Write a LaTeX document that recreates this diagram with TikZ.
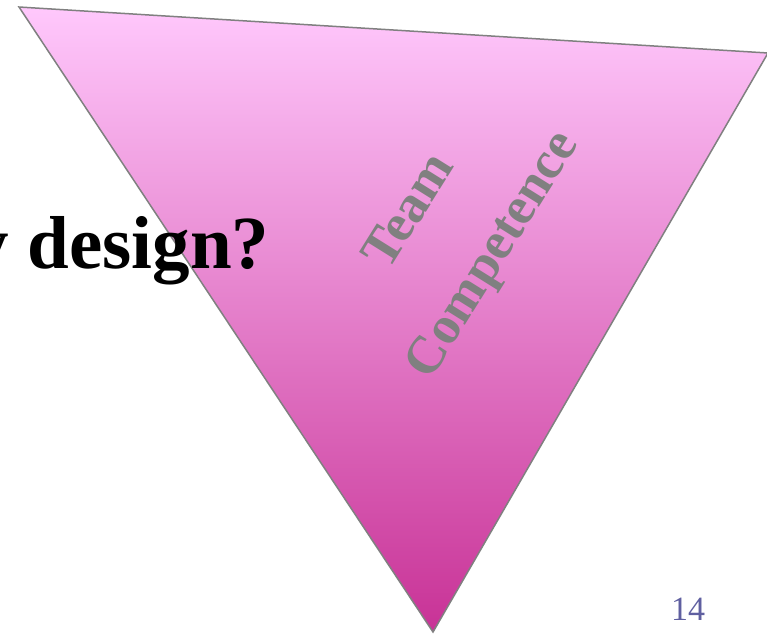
\documentclass[tikz,border=0pt]{standalone}
\usepackage{fontspec}
\setmainfont{Liberation Serif}
\begin{document}
\begin{tikzpicture}[x=1pt,y=1pt]
\definecolor{tritop}{RGB}{255,200,252}
\definecolor{tribot}{RGB}{200,50,150}
\definecolor{edgegray}{RGB}{128,128,128}
\definecolor{labelgray}{RGB}{128,128,128}
\definecolor{pagecol}{RGB}{95,95,160}
\tikzset{
  tri/.style={top color=tritop, bottom color=tribot, draw=edgegray, line width=1.5pt, line join=miter},
  titletext/.style={inner sep=0pt, font=\fontsize{75}{82}\selectfont\bfseries, text=black},
  rottext/.style={inner sep=0pt, rotate=58, font=\fontsize{53}{60}\selectfont\bfseries, text=labelgray},
  pagetext/.style={inner sep=0pt, font=\fontsize{34}{40}\selectfont, text=pagecol}
}
\useasboundingbox (0,0) rectangle (767,-633);
\coordinate (A) at (19,-7);
\coordinate (B) at (768,-53);
\coordinate (C) at (433,-632);
\path[tri] (A) -- (B) -- (C) -- cycle;
\node[titletext, anchor=base east] (q) at (269.5,-268) {y design?};
\node[rottext, anchor=base] (team) at (421.5,-219) {Team};
\node[rottext, anchor=base] (comp) at (504.7,-262.5) {Competence};
\node[pagetext] (pg) at (688,-609) {14};
\end{tikzpicture}
\end{document}
